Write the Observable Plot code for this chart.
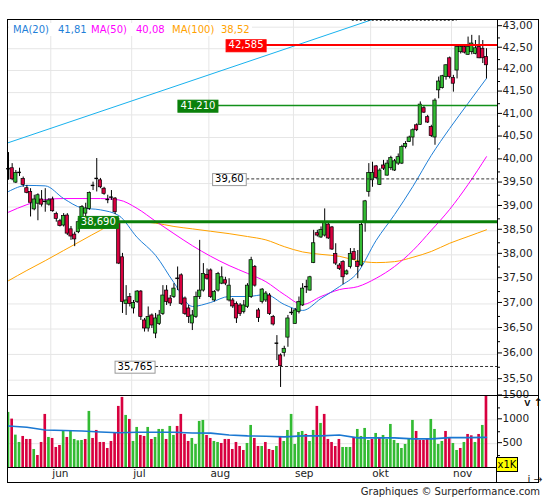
<!DOCTYPE html>
<html><head><meta charset="utf-8">
<script src="https://cdn.jsdelivr.net/npm/d3@7"></script>
<script src="https://cdn.jsdelivr.net/npm/@observablehq/plot@0.6"></script>
<style>
body{margin:0;background:#fff;}
#chart{position:relative;width:545px;height:500px;background:#fff;font-family:"DejaVu Sans",sans-serif;overflow:hidden;}
#chart svg{position:absolute;left:0;}
.abs{position:absolute;}
</style></head><body><div id="chart"></div>
<script>
// ---- data ----
const opens = [39.82,39.83,39.52,39.74,39.60,39.40,39.32,38.95,39.07,39.16,
39.12,39.05,39.16,38.85,38.70,38.61,38.82,38.53,38.42,38.47,
38.68,38.86,38.96,39.46,39.61,39.57,39.39,39.16,39.21,39.18,
38.68,37.95,37.00,37.14,36.91,37.04,37.25,36.67,36.51,36.77,
36.41,36.60,36.80,37.27,37.11,37.14,37.52,37.58,37.11,36.91,
36.61,36.74,37.14,37.27,37.59,37.68,37.07,37.27,37.41,37.48,
37.07,37.07,37.00,36.97,36.84,36.94,37.14,37.75,36.87,37.04,
37.07,37.17,36.74,36.22,35.98,36.03,36.33,36.83,36.60,36.84,
36.97,37.35,37.27,37.83,38.45,38.36,38.40,38.63,38.57,38.02,
37.78,37.85,37.60,37.75,38.06,37.85,37.78,38.68,39.32,39.57,
39.87,39.47,39.89,39.67,39.83,39.78,39.93,39.93,40.29,40.40,
40.50,40.77,40.78,41.15,40.95,40.73,40.50,41.55,41.60,41.85,
42.28,41.83,42.00,42.42,42.54,42.36,42.42,42.38,42.54,42.50,
42.31];
const highs = [40.17,39.93,39.78,39.83,39.64,39.46,39.39,39.25,39.28,39.35,
39.39,39.18,39.21,38.89,38.74,38.86,38.86,38.59,38.47,38.75,
39.03,39.08,39.32,39.53,40.04,39.61,39.42,39.25,39.35,39.20,
38.76,38.03,37.37,37.21,37.07,37.27,37.27,36.71,36.94,36.80,
36.81,36.87,37.37,37.37,37.17,37.41,37.75,37.61,37.14,36.97,
36.87,37.24,38.30,37.82,37.71,37.71,37.27,37.64,37.75,37.54,
37.51,37.11,37.04,37.01,37.07,37.41,37.95,37.78,36.91,37.31,
37.25,37.21,36.77,36.37,36.01,36.16,36.77,36.91,36.91,37.14,
37.41,37.48,37.56,38.51,38.51,38.58,38.96,38.66,38.59,38.23,
37.82,37.88,37.69,38.13,38.13,38.09,38.68,39.14,39.93,39.96,
39.89,39.82,40.00,40.00,40.09,40.02,40.14,40.33,40.41,40.53,
40.69,40.80,41.29,41.21,40.99,40.77,41.36,41.85,41.89,42.13,
42.31,41.89,42.58,42.58,42.58,42.77,42.81,42.69,42.80,42.69,
42.50];
const lows = [39.57,39.56,39.50,39.65,39.42,39.28,38.79,38.92,38.71,39.00,
38.89,39.02,38.89,38.68,38.58,38.58,38.40,38.30,38.17,38.44,
38.65,38.59,38.93,39.35,39.32,39.39,39.25,39.07,39.14,38.84,
37.80,36.81,36.77,36.94,36.80,37.01,36.67,36.44,36.44,36.51,
36.31,36.57,36.77,36.97,36.95,37.11,37.27,36.97,36.77,36.61,
36.47,36.71,37.09,37.24,37.48,37.11,37.04,37.24,37.39,37.37,
37.04,36.91,36.61,36.75,36.80,36.91,37.11,37.34,36.63,37.00,
37.03,36.77,36.56,35.88,35.36,35.95,36.14,36.77,36.60,36.80,
36.95,37.21,37.26,37.82,38.37,38.34,38.37,38.32,38.09,37.78,
37.68,37.39,37.58,37.71,37.89,37.51,37.75,38.47,39.21,39.42,
39.59,39.46,39.78,39.66,39.78,39.76,39.89,39.91,40.25,40.39,
40.31,40.63,40.77,41.03,40.81,40.50,40.33,41.36,41.58,41.78,
41.81,41.51,41.81,42.38,42.38,42.35,42.36,42.36,42.27,42.16,
41.81];
const closes = [39.82,39.59,39.73,39.74,39.47,39.30,39.09,39.16,39.25,39.05,
39.12,39.14,38.91,38.75,38.60,38.81,38.44,38.38,38.32,38.68,
39.00,38.97,39.30,39.46,39.61,39.42,39.28,39.16,39.21,38.89,
37.82,37.04,37.07,37.00,37.02,37.25,36.74,36.51,36.74,36.57,
36.71,36.77,37.17,37.04,37.01,37.31,37.52,37.00,36.80,36.74,
36.77,37.14,37.27,37.61,37.51,37.14,37.24,37.61,37.54,37.41,
37.37,36.95,36.71,36.80,36.97,37.37,37.89,37.37,36.72,37.29,
37.21,36.80,36.59,36.22,35.77,36.11,36.71,36.83,36.87,37.04,
37.31,37.35,37.54,38.24,38.40,38.52,38.68,38.34,38.11,37.82,
37.71,37.54,37.66,38.02,37.90,37.75,38.62,39.12,39.73,39.73,
39.62,39.78,39.82,39.93,40.05,39.98,40.07,40.29,40.36,40.50,
40.66,40.66,41.23,41.05,40.83,40.53,41.32,41.75,41.87,42.12,
41.85,41.70,42.54,42.54,42.41,42.54,42.62,42.51,42.28,42.28,
42.12];
const vols = [1155,1015,679,525,651,588,588,378,252,525,
1113,630,609,420,462,763,630,763,588,560,
567,588,1176,609,777,525,525,399,546,714,
1281,1470,1092,1008,546,840,672,651,840,588,
630,798,798,588,861,672,861,1113,693,546,
609,483,966,987,672,609,546,525,504,588,
588,378,525,441,357,504,882,609,441,441,
525,378,357,441,630,546,777,1113,483,735,
756,693,546,777,1281,924,1113,588,525,441,
588,420,420,420,630,798,651,819,567,588,
714,630,672,588,903,567,504,399,483,588,
987,756,567,567,588,1008,798,483,546,756,
609,504,357,399,525,693,665,525,693,882,
1560];
const volUp = [1,0,1,1,0,0,0,1,0,0, 0,1,0,0,0,1,0,1,1,1, 1,0,1,0,0,0,0,0,0,0,
0,0,1,0,1,1,0,0,1,0, 1,1,1,0,1,1,0,0,0,0, 1,1,1,1,0,0,1,1,0,0,
0,0,0,0,0,1,1,0,0,1, 0,0,0,1,0,1,1,1,1,1, 1,0,1,1,0,1,0,0,0,0,
0,1,1,1,0,1,1,1,1,0, 1,0,1,1,1,1,1,1,1,1, 1,0,0,0,0,1,1,1,1,0,
0,1,1,0,1,0,0,1,0,1, 0];

// moving averages sampled every 5 sessions
const maIdx = [0,5,10,15,20,25,30,35,40,45,50,55,60,65,70,75,80,85,90,95,100,105,110,115,120,125,130];
const ma20 = [39.33,39.46,39.45,39.18,38.98,38.94,38.82,38.36,37.99,37.43,36.95,37.03,37.15,37.15,37.19,36.99,36.87,37.11,37.35,37.64,38.30,38.84,39.44,40.11,40.70,41.26,41.82];
const ma50 = [38.89,39.05,39.16,39.18,39.18,39.18,39.15,38.97,38.70,38.44,38.19,37.97,37.78,37.62,37.45,37.19,36.99,37.15,37.29,37.35,37.52,37.76,38.09,38.51,38.95,39.48,40.08];
const ma100 = [37.47,37.68,37.88,38.09,38.30,38.51,38.69,38.69,38.66,38.59,38.54,38.49,38.44,38.38,38.31,38.17,38.06,38.01,37.97,37.88,37.84,37.86,37.95,38.07,38.24,38.38,38.52];
const volMA = [871,845,785,775,767,746,730,738,738,740,725,720,683,663,655,642,663,663,683,621,621,621,600,600,627,627,632];

const trendIdx = [-0.27, 99];
const trendVal = [40.38, 43.18];
const topLevel = 43.16;

const levelValues = [42.585, 41.21, 39.6, 38.69, 35.765];
const levelTexts = ["42,585", "41,210", "39,60", "38,690", "35,765"];

const monthStarts = [12, 34, 55, 78, 99, 121];
const monthNames = ["jun", "jul", "aug", "sep", "okt", "nov"];
const priceTicks = [35.5,36,36.5,37,37.5,38,38.5,39,39.5,40,40.5,41,41.5,42,42.5,43];
const priceMinor = [35.75,36.25,36.75,37.25,37.75,38.25,38.75,39.25,39.75,40.25,40.75,41.25,41.75,42.25,42.75];
const volTicks = [500, 1000, 1500];
const volMinor = [250, 750, 1250];

const maNames = ["MA(20)", "MA(50)", "MA(100)"];
const maLast = ["41,81", "40,08", "38,52"];

// ---- styles / layout ----
const UP = "#33bb33", DOWN = "#d8003f";
const C20 = "#1f7fd8", C50 = "#ff00ff", C100 = "#ffa200";
const xDomain = [-0.27, 133];
const levelStyle = [
  {start: 70.2, stroke: "#ff0000", width: 2, dash: null, box: "#ff0000", border: "#ff0000", text: "#ffffff"},
  {start: 57.1, stroke: "#12901a", width: 1.4, dash: null, box: "#0a800a", border: "#0a800a", text: "#ffffff"},
  {start: 64.8, stroke: "#333", width: 1, dash: "3,2", box: "#ffffff", border: "#999", text: "#000"},
  {start: 30.0, stroke: "#0a800a", width: 3, dash: null, box: "#0a800a", border: "#0a800a", text: "#ffffff"},
  {start: 40.0, stroke: "#333", width: 1, dash: "3,2", box: "#ffffff", border: "#999", text: "#000"}
];

const candles = opens.map((o, i) => ({i, o, h: highs[i], l: lows[i], c: closes[i]}));
const bodies = candles.filter(d => d.o !== d.c);
const dojis = candles.filter(d => d.o === d.c);
const volData = vols.map((v, i) => ({i, v, up: volUp[i]}));
const maData = maIdx.map((i, k) => ({i, a: ma20[k], b: ma50[k], c: ma100[k], v: volMA[k]}));
const trend = trendIdx.map((i, k) => ({i, v: trendVal[k]}));
const levels = levelValues.map((v, k) => ({v, label: levelTexts[k], ...levelStyle[k]}));
const grid = "#e6e6e6";
const fmt = d => d.toFixed(2).replace(".", ",");

const levelMarks = levels.map(lv =>
  Plot.ruleY([lv], {y: "v", x1: lv.start, x2: xDomain[1], stroke: lv.stroke, strokeWidth: lv.width, strokeDasharray: lv.dash || undefined}));
const levelTextMarks = levels.map(lv =>
  Plot.text([lv], {x: lv.start, y: "v", text: "label", textAnchor: "end", dx: -3, fill: lv.text, fontSize: 10}));

const price = Plot.plot({
  width: 545, height: 396, marginLeft: 7, marginRight: 48, marginTop: 19, marginBottom: 1,
  x: {domain: xDomain, axis: null},
  y: {type: "log", domain: [35.206, 43.18], axis: null},
  style: {fontFamily: "DejaVu Sans", fontSize: "10.5px", color: "#222", background: "transparent", overflow: "visible"},
  marks: [
    Plot.gridY(priceTicks, {stroke: grid, strokeOpacity: 1}),
    Plot.gridX(monthStarts.map(m => m - 0.5), {stroke: grid, strokeOpacity: 1}),
    Plot.line(trend, {x: "i", y: "v", stroke: "#18b2ee", strokeWidth: 1, clip: true}),
    Plot.ruleY([topLevel], {x1: 93.5, x2: 122, stroke: "#333", strokeDasharray: "2,2"}),
    Plot.line(maData, {x: "i", y: "c", stroke: C100, strokeWidth: 1, curve: "monotone-x"}),
    Plot.line(maData, {x: "i", y: "b", stroke: C50, strokeWidth: 1, curve: "monotone-x"}),
    Plot.line(maData, {x: "i", y: "a", stroke: C20, strokeWidth: 1, curve: "monotone-x"}),
    Plot.ruleX(candles, {x: "i", y1: "l", y2: "h", stroke: "#000", strokeWidth: 1}),
    Plot.rect(bodies, {x1: d => d.i - 0.45, x2: d => d.i + 0.45, y1: "o", y2: "c", fill: d => d.c > d.o ? UP : DOWN, stroke: "#000", strokeWidth: 0.7}),
    Plot.ruleY(dojis, {y: "o", x1: d => d.i - 0.5, x2: d => d.i + 0.5, stroke: "#000", strokeWidth: 1.4}),
    ...levelMarks,
    ...levelTextMarks,
    Plot.axisY(priceTicks, {anchor: "right", tickSize: 4, tickPadding: 1, tickFormat: fmt, dy: -1.5, stroke: "#000"}),
    Plot.axisY(priceMinor, {anchor: "right", tickSize: 2, tickFormat: () => "", stroke: "#000"}),
    Plot.frame({stroke: "#000"})
  ]
});

const volume = Plot.plot({
  width: 545, height: 90, marginLeft: 7, marginRight: 48, marginTop: 0, marginBottom: 18,
  x: {domain: xDomain, axis: null},
  y: {domain: [0, 1510], axis: null},
  style: {fontFamily: "DejaVu Sans", fontSize: "10.5px", color: "#222", background: "transparent", overflow: "visible"},
  marks: [
    Plot.gridY([500, 1000], {stroke: grid, strokeOpacity: 1}),
    Plot.gridX(monthStarts.map(m => m - 0.5), {stroke: grid, strokeOpacity: 1}),
    Plot.rectY(volData, {x1: d => d.i - 0.36, x2: d => d.i + 0.36, y: "v", fill: d => d.up ? UP : DOWN, clip: true}),
    Plot.line(maData, {x: "i", y: "v", stroke: "#1a78d2", strokeWidth: 1.6}),
    Plot.axisY(volTicks, {anchor: "right", tickSize: 4, tickPadding: 1, tickFormat: d => String(d), dy: -1, stroke: "#000"}),
    Plot.axisY(volMinor, {anchor: "right", tickSize: 2, tickFormat: () => "", stroke: "#000"}),
    Plot.axisX(monthStarts.map(m => m - 0.5), {tickSize: 0, tickPadding: 2, textAnchor: "start", dx: 1.5, tickFormat: (d, k) => monthNames[k]}),
    Plot.frame({stroke: "#000"})
  ]
});

const chart = document.getElementById("chart");
price.style.top = "0px";
volume.style.top = "395px";
chart.appendChild(price);
chart.appendChild(volume);

// boxes behind level labels (matched by their text)
price.querySelectorAll("text").forEach(t => {
  const k = levelTexts.indexOf(t.textContent);
  if (k < 0) return;
  const lv = levels[k];
  const b = t.getBBox();
  const r = document.createElementNS("http://www.w3.org/2000/svg", "rect");
  r.setAttribute("x", b.x - 2.5);
  r.setAttribute("y", b.y + 0.5);
  r.setAttribute("width", b.width + 5);
  r.setAttribute("height", b.height + 1);
  r.setAttribute("fill", lv.box);
  r.setAttribute("stroke", lv.border);
  r.setAttribute("stroke-width", "1");
  if (t.getAttribute("transform")) r.setAttribute("transform", t.getAttribute("transform"));
  t.parentNode.insertBefore(r, t);
});

function addDiv(css, html) {
  const d = document.createElement("div");
  d.className = "abs";
  d.style.cssText = css;
  if (html != null) d.innerHTML = html;
  chart.appendChild(d);
  return d;
}
// outer frame and separators
addDiv("left:7px;top:19px;width:532px;height:464px;border:1px solid #000;box-sizing:border-box;pointer-events:none;");
addDiv("left:497px;top:395px;width:41px;height:1px;background:#000;");
addDiv("left:496px;top:467px;width:1px;height:16px;background:#000;");

// legend
const leg = addDiv("left:9px;top:23px;width:243px;height:13px;background:#fff;font-size:10px;line-height:13px;white-space:nowrap;");
const legPos = [[4, 49], [82, 127], [163, 212]];
const legCol = [C20, C50, C100];
maNames.forEach((n, k) => {
  leg.innerHTML += `<span style="position:absolute;left:${legPos[k][0]}px;color:${legCol[k]}">${n}</span>` +
    `<span style="position:absolute;left:${legPos[k][1]}px;color:${legCol[k]}">${maLast[k]}</span>`;
});

// x1K badge
addDiv("left:496px;top:457px;width:22px;height:15px;background:#ffff00;border:1px solid #000;box-sizing:border-box;font-size:10px;line-height:13px;text-align:center;color:#000;", "x1K");

// caption
addDiv("right:5px;top:485px;font-size:10px;line-height:13px;color:#222;white-space:nowrap;", "Graphiques © Surperformance.com");
</script>
</body></html>
